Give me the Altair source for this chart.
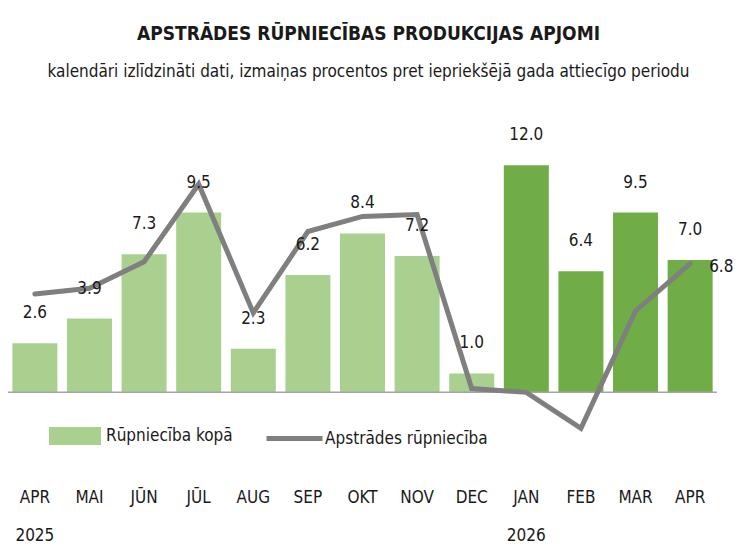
import altair as alt
import pandas as pd

# ---- data ----
months = ["APR 2025", "MAI", "JŪN", "JŪL", "AUG", "SEP", "OKT", "NOV", "DEC",
          "JAN 2026", "FEB", "MAR", "APR"]
years = [2025, 2025, 2025, 2025, 2025, 2025, 2025, 2025, 2025,
         2026, 2026, 2026, 2026]
total = [2.6, 3.9, 7.3, 9.5, 2.3, 6.2, 8.4, 7.2, 1.0, 12.0, 6.4, 9.5, 7.0]
manuf = [5.2, 5.5, 6.9, 11.0, 4.2, 8.5, 9.3, 9.4, 0.2, 0.0, -1.9, 4.3, 6.8]
series_bar = "Rūpniecība kopā"
series_line = "Apstrādes rūpniecība"

FONT = "'DejaVu Sans Condensed', 'Roboto Condensed', 'Open Sans', sans-serif"
LIGHT = "#a9d08e"
DARK = "#70ad47"
GRAY = "#7f7f7f"
TXT = "#1a1a1a"

df = pd.DataFrame({
    "month": months,
    "year": years,
    "total": total,
    "manuf": manuf,
    "s1": [series_bar] * len(months),
    "s2": [series_line] * len(months),
})

x = alt.X(
    "month:N",
    sort=months,
    scale=alt.Scale(paddingInner=0.176, paddingOuter=0.08),
    axis=alt.Axis(
        title=None, labelAngle=0, domain=False, ticks=False, tickSize=0,
        labelPadding=21, labelFont=FONT, labelFontSize=17, labelColor=TXT,
        labelExpr="split(datum.label, ' ')", labelLineHeight=38,
        labelBaseline="top",
    ),
)
yscale = alt.Scale(domain=[-4, 14.5], nice=False, zero=False)

base = alt.Chart(df)

bars = base.mark_bar().encode(
    x=x,
    y=alt.Y("total:Q", scale=yscale, axis=None),
    fill=alt.condition(
        "datum.year == 2026",
        alt.value(DARK),
        alt.Fill("s1:N", scale=alt.Scale(domain=[series_bar], range=[LIGHT]),
                 legend=alt.Legend(
                     orient="none", legendX=41, legendY=292, title=None,
                     symbolType="M-1,-0.346H1V0.346H-1Z", symbolSize=2704,
                     symbolStrokeWidth=0, labelFont=FONT, labelFontSize=17,
                     labelColor=TXT, labelOffset=5, padding=0, labelLimit=400,
                 )),
    ),
)

zero = alt.Chart(pd.DataFrame({"z": [0]})).mark_rule(
    color="#a6a6a6", strokeWidth=1.5
).encode(y=alt.Y("z:Q", scale=yscale))

line = base.mark_line(strokeWidth=5, strokeJoin="miter", strokeCap="round").encode(
    x=x,
    y=alt.Y("manuf:Q", scale=yscale),
    stroke=alt.Stroke("s2:N", scale=alt.Scale(domain=[series_line], range=[GRAY]),
                      legend=alt.Legend(
                          orient="none", legendX=256, legendY=290, title=None,
                          symbolType="stroke", symbolSize=3136,
                          symbolStrokeWidth=5, labelFont=FONT, labelFontSize=17,
                          labelColor=TXT, labelOffset=0, padding=0, labelLimit=400,
                      )),
)

bar_labels = base.mark_text(
    dy=-30, baseline="middle", font=FONT, fontSize=17, color=TXT
).encode(
    x=x,
    y=alt.Y("total:Q", scale=yscale),
    text=alt.Text("total:Q", format=".1f"),
)

line_label = base.transform_filter("datum.month == 'APR'").mark_text(
    dx=19, dy=3, align="left", baseline="middle", font=FONT, fontSize=17, color=TXT
).encode(
    x=x,
    y=alt.Y("manuf:Q", scale=yscale),
    text=alt.Text("manuf:Q", format=".1f"),
)

chart = alt.layer(bars, zero, line, bar_labels, line_label).properties(
    width=709,
    height=350,
    padding={"left": 8, "top": 118, "right": 21, "bottom": 80},
    autosize=alt.AutoSizeParams(type="none"),
    title=alt.TitleParams(
        text="APSTRĀDES RŪPNIECĪBAS PRODUKCIJAS APJOMI",
        subtitle="kalendāri izlīdzināti dati, izmaiņas procentos pret iepriekšējā gada attiecīgo periodu",
        anchor="middle", font=FONT, fontSize=19, fontWeight="bold", color=TXT,
        subtitleFont=FONT, subtitleFontSize=17, subtitleColor=TXT,
        subtitlePadding=20, offset=38, dx=6,
    ),
).configure(background="white", view=alt.ViewConfig(stroke=None))

chart.save("out.html", embed_options={"renderer": "svg", "actions": False})
